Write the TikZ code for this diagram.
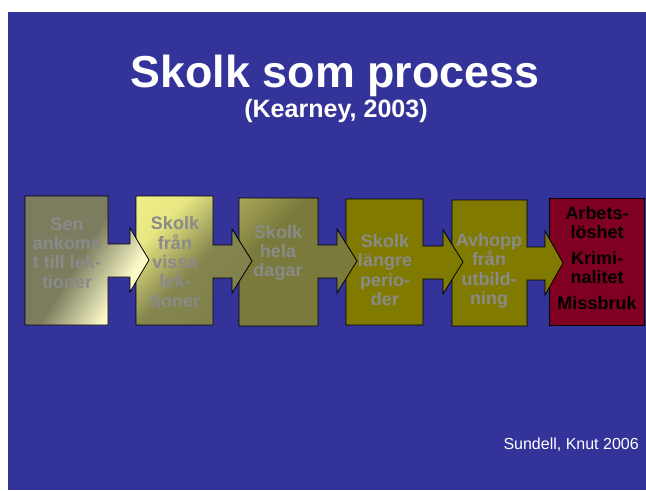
\documentclass[tikz,border=0pt]{standalone}
\usepackage{fontspec}
\setmainfont{Liberation Sans}
\usetikzlibrary{positioning}

\definecolor{slideblue}{HTML}{333399}
\definecolor{olgrey}{HTML}{7C7C5E}
\definecolor{paleyellow}{HTML}{FAFAC8}
\definecolor{brightyellow}{HTML}{F8F88C}
\definecolor{softolive}{HTML}{85854F}
\definecolor{dullolive}{HTML}{7A7A3C}
\definecolor{darkolive}{HTML}{807A00}
\definecolor{outcomered}{HTML}{7F0020}
\definecolor{stagegrey}{HTML}{8A8A8A}

\pgfdeclarehorizontalshading{lateshade}{100bp}{color(0bp)=(olgrey); color(47bp)=(olgrey); color(68bp)=(paleyellow); color(100bp)=(paleyellow)}
\pgfdeclarehorizontalshading{partialshade}{100bp}{color(0bp)=(brightyellow); color(30bp)=(brightyellow!85!softolive); color(52bp)=(softolive); color(100bp)=(softolive!90!black)}
\pgfdeclarehorizontalshading{wholeshade}{100bp}{color(0bp)=(dullolive!40!brightyellow); color(24bp)=(dullolive!80!brightyellow); color(34bp)=(dullolive); color(100bp)=(dullolive)}

% box with an arrow on its right side: left, right, top, bottom, head, tip, middle
\newcommand{\stageshape}[7]{(#1,#3) -- (#2,#3) -- (#2,#7-16) -- (#5,#7-16) -- (#5,#7-32) -- (#6,#7) -- (#5,#7+32) -- (#5,#7+17) -- (#2,#7+17) -- (#2,#4) -- (#1,#4) -- cycle}

\begin{document}
\begin{tikzpicture}[x=0.75pt, y=-0.75pt,
	stageline/.style={draw=black, line width=0.6pt},
	stagetext/.style={text=stagegrey, inner sep=0pt, align=center, font=\bfseries\fontsize{13.5}{14.5}\selectfont},
	]

	%slide
	\useasboundingbox (0,0) rectangle (646,490);
	\fill[white] (0,0) rectangle (646,490);
	\fill[slideblue] (8,12) rectangle (646,490);

	%title
	\node[anchor=base, inner sep=0pt, text=white, font=\bfseries\fontsize{33.6}{36}\selectfont] (title) at (335,87) {Skolk som process};
	\node[anchor=base, inner sep=0pt, text=white, font=\bfseries\fontsize{18.8}{20}\selectfont] (source) at (336,117) {(Kearney, 2003)};

	%outcome box
	\filldraw[stageline, fill=outcomered] (549,198) rectangle (644,325);

	%stages, right to left so each arrow lies over the next box
	\filldraw[stageline, fill=darkolive] \stageshape{452}{527}{200}{326}{545}{563}{263};
	\filldraw[stageline, fill=darkolive] \stageshape{346}{423}{199}{325}{443}{463}{262};
	\shadedraw[stageline, shading=wholeshade, shading angle=-45] \stageshape{239}{318}{198}{326}{337}{357}{261};
	\shadedraw[stageline, shading=partialshade, shading angle=-45] \stageshape{136}{213}{196}{325}{232}{252}{261};
	\shadedraw[stageline, shading=lateshade, shading angle=-32] \stageshape{25}{108}{196}{325}{130}{149}{260};

	%labels
	\node[stagetext] (late) at (67,253) {Sen\\ankoms\\t till lek-\\tioner};
	\node[stagetext] (partial) at (175,262) {Skolk\\från\\vissa\\lek-\\tioner};
	\node[stagetext] (whole) at (278,253) {Skolk\\hela\\dagar};
	\node[stagetext] (long) at (385,270) {Skolk\\längre\\perio-\\der};
	\node[stagetext] (dropout) at (489,271) {Avhopp\\från\\utbild-\\ning};
	\node[stagetext, text=black] (outcome) at (597,258) {Arbets-\\löshet\\[5pt]Krimi-\\nalitet\\[5pt]Missbruk};

	%credit
	\node[anchor=base east, inner sep=0pt, text=white, font=\fontsize{12}{14}\selectfont] (credit) at (639,449) {Sundell, Knut 2006};

\end{tikzpicture}
\end{document}
